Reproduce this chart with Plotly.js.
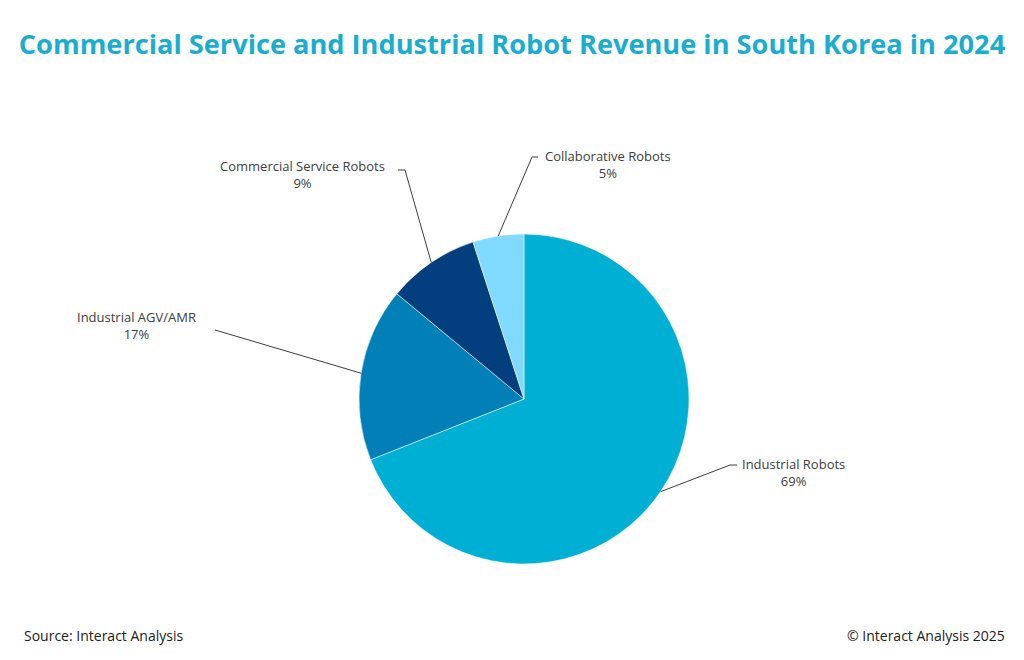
<!DOCTYPE html>
<html>
<head>
<meta charset="utf-8">
<script src="https://cdn.plot.ly/plotly-3.0.1.min.js"></script>
<style>html,body{margin:0;padding:0;background:#fff;}#chart{width:1024px;height:660px;}</style>
</head>
<body>
<div id="chart"></div>
<script>
// Data
const categories = ["Industrial Robots", "Industrial AGV/AMR", "Commercial Service Robots", "Collaborative Robots"];
const shares = [69, 17, 9, 5];
const sliceColors = ["#00B0D4", "#0080B6", "#033E7E", "#80D9FF"];

// Layout constants (pixels)
const W = 1024, H = 660;
const cx = 524, cy = 399, R = 165;
// label anchor (text) positions and leader elbows, per category
const labelPos = [
  {x: 740, y: 472, xanchor: "left", elbow: [730, 465], end: [737, 465]},
  {x: 136, y: 325, xanchor: "center", elbow: [215, 330], end: [215, 330]},
  {x: 302, y: 174, xanchor: "center", elbow: [405, 170], end: [398, 170]},
  {x: 608, y: 164, xanchor: "center", elbow: [532, 157], end: [538, 157]}
];

const px = x => x / W;
const py = y => 1 - y / H;

const total = shares.reduce((a, b) => a + b, 0);
const shapes = [];
const annotations = [];
let cum = 0;
shares.forEach((v, i) => {
  const mid = (cum + v / 2) / total * 2 * Math.PI;
  cum += v;
  const ex = cx + R * Math.sin(mid);
  const ey = cy - R * Math.cos(mid);
  const lp = labelPos[i];
  shapes.push({type: "path", xref: "paper", yref: "paper",
    path: `M ${px(ex)} ${py(ey)} L ${px(lp.elbow[0])} ${py(lp.elbow[1])} L ${px(lp.end[0])} ${py(lp.end[1])}`,
    line: {color: "#404040", width: 1}});
  annotations.push({xref: "paper", yref: "paper", x: px(lp.x), y: py(lp.y),
    xanchor: lp.xanchor, yanchor: "middle", showarrow: false, align: "center",
    text: categories[i] + "<br>" + Math.round(v / total * 100) + "%",
    font: {family: "Open Sans, sans-serif", size: 13, color: "#404040"}});
});

annotations.push({xref: "paper", yref: "paper", x: px(22), y: py(635), xanchor: "left", yanchor: "middle",
  showarrow: false, text: "Source: Interact Analysis",
  font: {family: "Open Sans, sans-serif", size: 14, color: "#222"}});
annotations.push({xref: "paper", yref: "paper", x: px(1007), y: py(635), xanchor: "right", yanchor: "middle",
  showarrow: false, text: "© Interact Analysis 2025",
  font: {family: "Open Sans, sans-serif", size: 14, color: "#222"}});

const trace = {
  type: "pie",
  labels: categories,
  values: shares,
  sort: false,
  direction: "clockwise",
  rotation: 0,
  marker: {colors: sliceColors, line: {color: "#ffffff", width: 0.5}},
  textinfo: "none",
  hoverinfo: "label+percent",
  domain: {x: [(cx - R) / W, (cx + R) / W], y: [1 - (cy + R) / H, 1 - (cy - R) / H]}
};

const layout = {
  width: W, height: H,
  margin: {l: 0, r: 0, t: 0, b: 0},
  paper_bgcolor: "#ffffff",
  showlegend: false,
  title: {text: "<b>Commercial Service and Industrial Robot Revenue in South Korea in 2024</b>",
    x: 0.5, xanchor: "center", y: py(44), yanchor: "middle",
    font: {family: "Open Sans, sans-serif", size: 27.2, color: "#1AADD0"}},
  shapes: shapes,
  annotations: annotations
};

Plotly.newPlot("chart", [trace], layout, {displayModeBar: false, staticPlot: true});
</script>
</body>
</html>
